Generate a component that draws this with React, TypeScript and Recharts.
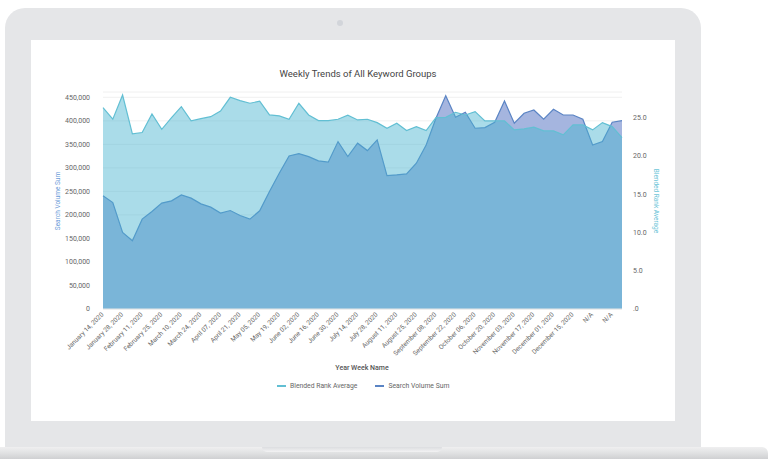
import React from 'react';
import { AreaChart, Area, XAxis, YAxis, CartesianGrid } from 'recharts';

const weeks: string[] = [
  'January 14, 2020', 'January 21, 2020', 'January 28, 2020', 'February 04, 2020', 'February 11, 2020',
  'February 18, 2020', 'February 25, 2020', 'March 03, 2020', 'March 10, 2020', 'March 17, 2020',
  'March 24, 2020', 'March 31, 2020', 'April 07, 2020', 'April 14, 2020', 'April 21, 2020',
  'April 28, 2020', 'May 05, 2020', 'May 12, 2020', 'May 19, 2020', 'May 26, 2020',
  'June 02, 2020', 'June 09, 2020', 'June 16, 2020', 'June 23, 2020', 'June 30, 2020',
  'July 07, 2020', 'July 14, 2020', 'July 21, 2020', 'July 28, 2020', 'August 04, 2020',
  'August 11, 2020', 'August 18, 2020', 'August 25, 2020', 'September 01, 2020', 'September 08, 2020',
  'September 15, 2020', 'September 22, 2020', 'September 29, 2020', 'October 06, 2020', 'October 13, 2020',
  'October 20, 2020', 'October 27, 2020', 'November 03, 2020', 'November 10, 2020', 'November 17, 2020',
  'November 24, 2020', 'December 01, 2020', 'December 08, 2020', 'December 15, 2020', 'December 22, 2020',
  'N/A', 'N/A', 'N/A', 'N/A',
];

const blendedRankAverage: number[] = [
  26.3, 24.8, 27.96, 22.87, 23.05, 25.48, 23.48, 25.0, 26.44, 24.57,
  24.87, 25.13, 25.87, 27.66, 27.22, 26.88, 27.14, 25.35, 25.22, 24.79,
  26.88, 25.35, 24.61, 24.61, 24.79, 25.31, 24.7, 24.79, 24.35, 23.62,
  24.27, 23.31, 23.83, 23.31, 25.0, 25.04, 25.7, 25.35, 25.79, 24.57,
  24.57, 24.57, 23.4, 23.53, 23.75, 23.27, 23.27, 22.75, 24.05, 24.05,
  23.4, 24.35, 23.83, 22.39,
];

const searchVolumeSum: number[] = [
  240500, 226300, 162600, 145000, 191000, 207200, 225000, 229900, 242600, 235600,
  223500, 216500, 203800, 209300, 198700, 191000, 208700, 249600, 288700, 325400,
  330300, 323900, 314800, 312000, 355800, 324000, 352400, 336700, 359400, 283600,
  285100, 287200, 309900, 348700, 405400, 453400, 407500, 418200, 384200, 385500,
  396900, 442100, 394800, 416000, 423000, 403300, 424500, 412400, 412400, 403300,
  348700, 355800, 396900, 400300,
];

const leftTicks = [0, 50000, 100000, 150000, 200000, 250000, 300000, 350000, 400000, 450000];
const rightTicks = [0, 5, 10, 15, 20, 25];

const title = 'Weekly Trends of All Keyword Groups';
const xAxisTitle = 'Year Week Name';
const leftAxisTitle = 'Search Volume Sum';
const rightAxisTitle = 'Blended Rank Average';

const data = weeks.map((w, i) => ({
  week: w,
  rank: blendedRankAverage[i],
  volume: searchVolumeSum[i],
}));

const FONT = 'Roboto, "Noto Sans", sans-serif';
const CYAN_LINE = '#62bfd3';
const BLUE_LINE = '#5a84c4';

const XTick = (props: any) => {
  const { x, y, payload } = props;
  const ax = x + 1;
  const ay = y + 4;
  return (
    <text
      x={ax}
      y={ay}
      transform={`rotate(-45, ${ax}, ${ay})`}
      textAnchor="end"
      fontSize={6.5}
      fill="#666"
      fontFamily={FONT}
    >
      {payload.value}
    </text>
  );
};

const fmtLeft = (v: number) => v.toLocaleString('en-US');
const fmtRight = (v: number) => (v === 0 ? '.0' : v.toFixed(1));

export default function App() {
  return (
    <div style={{ position: 'absolute', left: 0, top: 0, width: 769, height: 459, background: '#fff', overflow: 'hidden', fontFamily: FONT }}>
      {/* laptop frame */}
      <div style={{ position: 'absolute', left: 5, top: 8, width: 696, height: 439, background: '#e5e6e8', borderRadius: '20px 20px 0 0' }} />
      <div style={{ position: 'absolute', left: 337, top: 20, width: 6, height: 6, borderRadius: 3, background: '#d2d5da' }} />
      {/* base */}
      <div style={{ position: 'absolute', left: 0, top: 447, width: 768, height: 12, background: 'linear-gradient(#efeff0, #e2e3e4 45%, #cfd0d2)', borderRadius: '0 6px 0 0' }} />
      <div style={{ position: 'absolute', left: 262, top: 447, width: 180, height: 5, background: 'linear-gradient(#dcdde0, #f2f2f3)', borderRadius: '0 0 8px 8px' }} />
      {/* screen */}
      <div style={{ position: 'absolute', left: 31, top: 40, width: 644, height: 381, background: '#fff' }} />

      <div style={{ position: 'absolute', left: 31, top: 40 }}>
        <AreaChart
          width={643}
          height={380}
          data={data}
          margin={{ top: 52, right: 12, bottom: 51, left: 22 }}
          style={{ fontFamily: FONT }}
        >
          <CartesianGrid vertical={false} stroke="#f0f0f0" yAxisId="left" />
          <XAxis
            dataKey="week"
            interval={1}
            tick={<XTick />}
            tickLine={false}
            tickSize={0}
            axisLine={{ stroke: '#e6e6e6' }}
            height={60}
          />
          <YAxis
            yAxisId="left"
            orientation="left"
            domain={[0, 461250]}
            ticks={leftTicks}
            tickFormatter={fmtLeft}
            tick={{ fontSize: 7, fill: '#666' }}
            tickLine={false}
            axisLine={false}
            tickSize={0}
            tickMargin={13}
            width={50}
            allowDataOverflow
          />
          <YAxis
            yAxisId="right"
            orientation="right"
            domain={[0, 28.35]}
            ticks={rightTicks}
            tickFormatter={fmtRight}
            tick={{ fontSize: 7, fill: '#666', textAnchor: 'start' }}
            tickLine={false}
            axisLine={false}
            tickSize={0}
            tickMargin={11}
            width={40}
            allowDataOverflow
          />
          <Area
            yAxisId="left"
            type="linear"
            dataKey="volume"
            stroke={BLUE_LINE}
            strokeWidth={1.2}
            fill="#a5b5df"
            fillOpacity={1}
            isAnimationActive={false}
            dot={false}
            activeDot={false}
          />
          <Area
            yAxisId="right"
            type="linear"
            dataKey="rank"
            stroke={CYAN_LINE}
            strokeWidth={1.2}
            fill="#4ab5d0"
            fillOpacity={0.47}
            isAnimationActive={false}
            dot={false}
            activeDot={false}
          />
        </AreaChart>
      </div>

      {/* title */}
      <div style={{ position: 'absolute', left: 31, width: 654, top: 68, textAlign: 'center', fontSize: 9.5, fontWeight: 400, color: '#444', lineHeight: '12px', whiteSpace: 'nowrap' }}>
        {title}
      </div>

      {/* left axis title */}
      <div style={{ position: 'absolute', left: 58, top: 201, width: 0, height: 0 }}>
        <div style={{ position: 'absolute', left: -60, top: -5, width: 120, textAlign: 'center', fontSize: 6.5, color: '#6a9bd8', lineHeight: '10px', transform: 'rotate(-90deg)', whiteSpace: 'nowrap' }}>
          {leftAxisTitle}
        </div>
      </div>

      {/* right axis title */}
      <div style={{ position: 'absolute', left: 656, top: 201, width: 0, height: 0 }}>
        <div style={{ position: 'absolute', left: -60, top: -5, width: 120, textAlign: 'center', fontSize: 6.5, color: '#6cc5d8', lineHeight: '10px', transform: 'rotate(90deg)', whiteSpace: 'nowrap' }}>
          {rightAxisTitle}
        </div>
      </div>

      {/* x axis title */}
      <div style={{ position: 'absolute', left: 262, width: 200, top: 363, textAlign: 'center', fontSize: 7, fontWeight: 500, color: '#555', lineHeight: '10px' }}>
        {xAxisTitle}
      </div>

      {/* legend */}
      <div style={{ position: 'absolute', left: 277, top: 381, height: 10, display: 'flex', alignItems: 'center', fontSize: 6.8, color: '#666', whiteSpace: 'nowrap' }}>
        <span style={{ display: 'inline-block', width: 9, height: 1.5, background: CYAN_LINE, marginRight: 4 }} />
        <span>{rightAxisTitle}</span>
        <span style={{ display: 'inline-block', width: 9, height: 1.5, background: BLUE_LINE, marginLeft: 18, marginRight: 4 }} />
        <span>{leftAxisTitle}</span>
      </div>
    </div>
  );
}
